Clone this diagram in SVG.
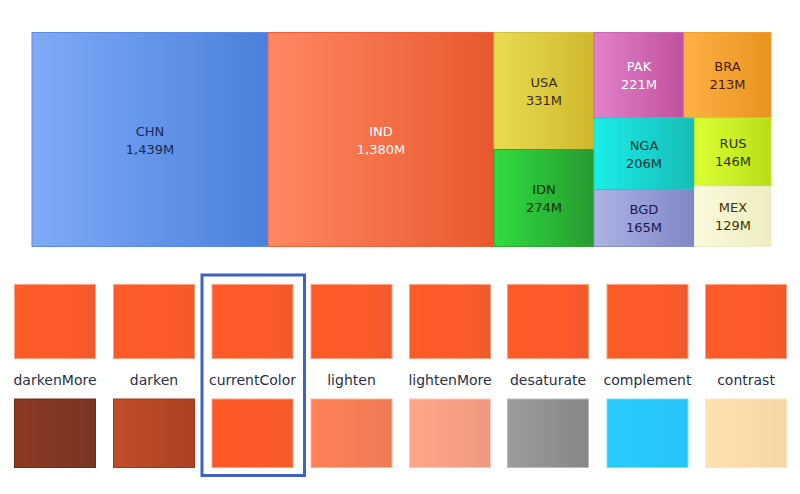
<svg xmlns="http://www.w3.org/2000/svg" width="800" height="494" viewBox="0 0 800 494">
<style>
.t{font-family:"DejaVu Sans","Liberation Sans",sans-serif;font-size:13px;text-anchor:middle}
.l{font-family:"DejaVu Sans","Liberation Sans",sans-serif;font-size:14px;text-anchor:middle;fill:#2a2f4a}
.sw{stroke-width:1}
</style>
<defs>
<linearGradient id="gCHN"><stop offset="0" stop-color="#80aaf6"/><stop offset="1" stop-color="#4a80dc"/></linearGradient>
<linearGradient id="gIND"><stop offset="0" stop-color="#ff8862"/><stop offset="1" stop-color="#e8582e"/></linearGradient>
<linearGradient id="gUSA"><stop offset="0" stop-color="#eadc52"/><stop offset="1" stop-color="#cfb82c"/></linearGradient>
<linearGradient id="gIDN"><stop offset="0" stop-color="#30dc40"/><stop offset="1" stop-color="#279a30"/></linearGradient>
<linearGradient id="gPAK"><stop offset="0" stop-color="#e282ca"/><stop offset="1" stop-color="#c0509e"/></linearGradient>
<linearGradient id="gBRA"><stop offset="0" stop-color="#ffb244"/><stop offset="1" stop-color="#e8921e"/></linearGradient>
<linearGradient id="gNGA"><stop offset="0" stop-color="#1aeee6"/><stop offset="1" stop-color="#16bcb6"/></linearGradient>
<linearGradient id="gBGD"><stop offset="0" stop-color="#acb4e4"/><stop offset="1" stop-color="#7e86c6"/></linearGradient>
<linearGradient id="gRUS"><stop offset="0" stop-color="#dcff34"/><stop offset="1" stop-color="#b6de16"/></linearGradient>
<linearGradient id="gMEX"><stop offset="0" stop-color="#fafadc"/><stop offset="1" stop-color="#eeeec0"/></linearGradient>
<linearGradient id="gTop"><stop offset="0" stop-color="#ff5a28"/><stop offset="0.7" stop-color="#fd5a2a"/><stop offset="1" stop-color="#ef5a2c"/></linearGradient>
<linearGradient id="gDM"><stop offset="0" stop-color="#8c3a22"/><stop offset="1" stop-color="#7a3520"/></linearGradient>
<linearGradient id="gDK"><stop offset="0" stop-color="#c24c28"/><stop offset="1" stop-color="#ac4222"/></linearGradient>
<linearGradient id="gCC"><stop offset="0" stop-color="#ff5826"/><stop offset="1" stop-color="#f55a28"/></linearGradient>
<linearGradient id="gLT"><stop offset="0" stop-color="#ff8258"/><stop offset="1" stop-color="#ee7a54"/></linearGradient>
<linearGradient id="gLM"><stop offset="0" stop-color="#ffa68a"/><stop offset="1" stop-color="#ee9a80"/></linearGradient>
<linearGradient id="gDS"><stop offset="0" stop-color="#9c9c9c"/><stop offset="1" stop-color="#868686"/></linearGradient>
<linearGradient id="gCP"><stop offset="0" stop-color="#2acaff"/><stop offset="1" stop-color="#26c4f8"/></linearGradient>
<linearGradient id="gCT"><stop offset="0" stop-color="#ffe0b0"/><stop offset="1" stop-color="#f6d6a6"/></linearGradient>
</defs>
<rect width="800" height="494" fill="#ffffff"/>
<g id="treemap">
<g id="CHN"><rect x="32" y="32.5" width="236" height="214" fill="url(#gCHN)" stroke="#5a8ae2"/><text class="t" x="150" y="135.5" fill="#1c2a52">CHN<tspan x="150" dy="18">1,439M</tspan></text></g>
<g id="IND"><rect x="268" y="32.5" width="226" height="214" fill="url(#gIND)" stroke="#ee6036"/><text class="t" x="381" y="135.5" fill="#ffffff">IND<tspan x="381" dy="18">1,380M</tspan></text></g>
<g id="USA"><rect x="494" y="32.5" width="100" height="117" fill="url(#gUSA)" stroke="#d4c040"/><text class="t" x="544" y="87" fill="#3a3008">USA<tspan x="544" dy="18">331M</tspan></text></g>
<g id="IDN"><rect x="494" y="149.5" width="100" height="97" fill="url(#gIDN)" stroke="#2aa834"/><text class="t" x="544" y="194" fill="#0c300c">IDN<tspan x="544" dy="18">274M</tspan></text></g>
<g id="PAK"><rect x="594" y="32.5" width="90" height="85.5" fill="url(#gPAK)" stroke="#cc66b4"/><text class="t" x="639" y="71" fill="#ffffff">PAK<tspan x="639" dy="18">221M</tspan></text></g>
<g id="BRA"><rect x="684" y="32.5" width="87" height="85.5" fill="url(#gBRA)" stroke="#f0a030"/><text class="t" x="727.5" y="71" fill="#4a1c00">BRA<tspan x="727.5" dy="18">213M</tspan></text></g>
<g id="NGA"><rect x="594" y="118" width="100.5" height="71.5" fill="url(#gNGA)" stroke="#20d4cc"/><text class="t" x="644" y="150" fill="#0a3434">NGA<tspan x="644" dy="18">206M</tspan></text></g>
<g id="BGD"><rect x="594" y="189.5" width="100.5" height="57" fill="url(#gBGD)" stroke="#8890cc"/><text class="t" x="644" y="214" fill="#1a1a4c">BGD<tspan x="644" dy="18">165M</tspan></text></g>
<g id="RUS"><rect x="694.5" y="118" width="76.5" height="68.5" fill="url(#gRUS)" stroke="#c4ea24"/><text class="t" x="733" y="148" fill="#2c3400">RUS<tspan x="733" dy="18">146M</tspan></text></g>
<g id="MEX"><rect x="694.5" y="186.5" width="76.5" height="60" fill="url(#gMEX)" stroke="#eeeecc"/><text class="t" x="733" y="212" fill="#4a3000">MEX<tspan x="733" dy="18">129M</tspan></text></g>
</g>
<g id="swatches">
<g id="s-darkenMore"><rect x="14.5" y="284.5" width="81" height="74" fill="url(#gTop)" stroke="#ffa080"/><text class="l" x="55" y="385">darkenMore</text><rect x="14.5" y="399" width="81" height="68.5" fill="url(#gDM)" stroke="#6e2c18"/></g>
<g id="s-darken"><rect x="113.5" y="284.5" width="81" height="74" fill="url(#gTop)" stroke="#ffa080"/><text class="l" x="154" y="385">darken</text><rect x="113.5" y="399" width="81" height="68.5" fill="url(#gDK)" stroke="#9a3a1c"/></g>
<g id="s-currentColor"><rect x="212" y="284.5" width="81" height="74" fill="url(#gTop)" stroke="#ffa080"/><text class="l" x="252.5" y="385">currentColor</text><rect x="212" y="399" width="81" height="68.5" fill="url(#gCC)" stroke="#ffa080"/></g>
<g id="s-lighten"><rect x="311" y="284.5" width="81" height="74" fill="url(#gTop)" stroke="#ffa080"/><text class="l" x="351.5" y="385">lighten</text><rect x="311" y="399" width="81" height="68.5" fill="url(#gLT)" stroke="#ffb49a"/></g>
<g id="s-lightenMore"><rect x="409.5" y="284.5" width="81" height="74" fill="url(#gTop)" stroke="#ffa080"/><text class="l" x="450" y="385">lightenMore</text><rect x="409.5" y="399" width="81" height="68.5" fill="url(#gLM)" stroke="#ffc8b4"/></g>
<g id="s-desaturate"><rect x="507.5" y="284.5" width="81" height="74" fill="url(#gTop)" stroke="#ffa080"/><text class="l" x="548" y="385">desaturate</text><rect x="507.5" y="399" width="81" height="68.5" fill="url(#gDS)" stroke="#bbbbbb"/></g>
<g id="s-complement"><rect x="607" y="284.5" width="81" height="74" fill="url(#gTop)" stroke="#ffa080"/><text class="l" x="647.5" y="385">complement</text><rect x="607" y="399" width="81" height="68.5" fill="url(#gCP)" stroke="#7adcff"/></g>
<g id="s-contrast"><rect x="705.5" y="284.5" width="81" height="74" fill="url(#gTop)" stroke="#ffa080"/><text class="l" x="746" y="385">contrast</text><rect x="705.5" y="399" width="81" height="68.5" fill="url(#gCT)" stroke="#fbe6c4"/></g>
</g>
<rect id="highlight" x="202" y="275" width="102.5" height="200.5" fill="none" stroke="#3f62c4" stroke-width="3"/>
</svg>
